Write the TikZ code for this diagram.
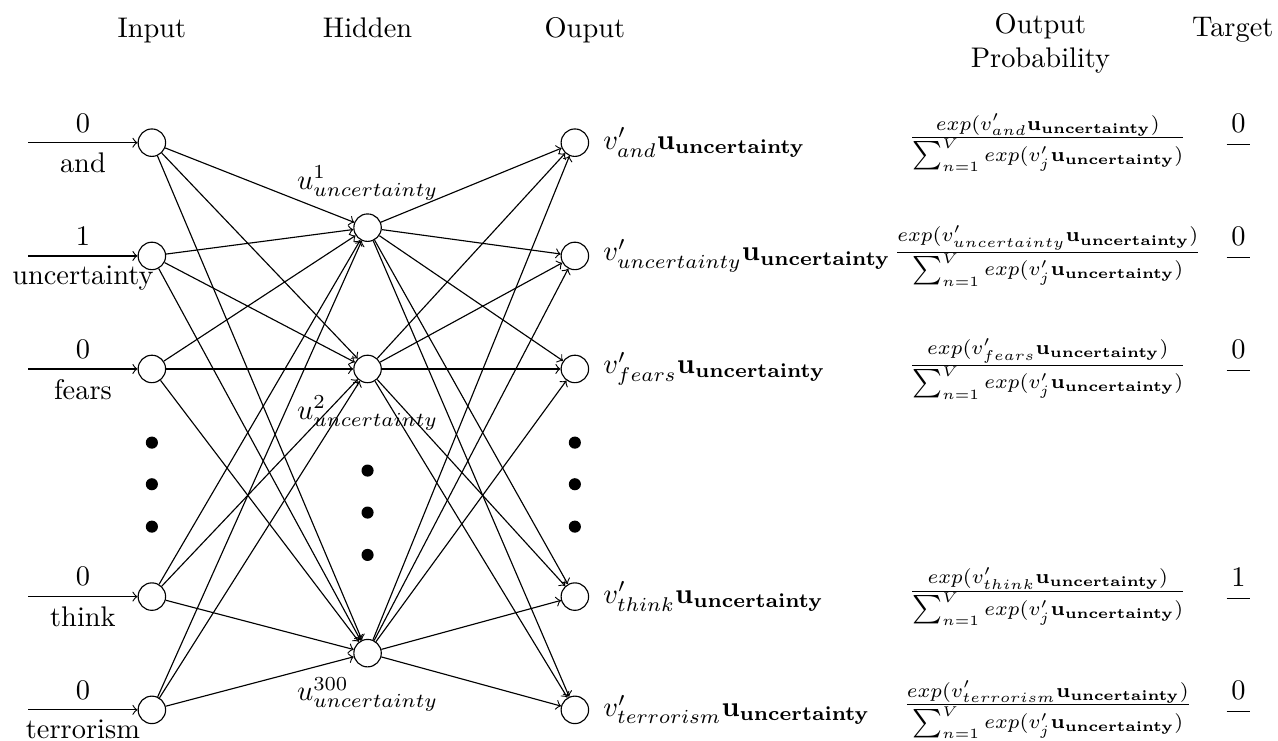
\documentclass[tikz,border=0pt]{standalone}
\usepackage{tikz}
\usetikzlibrary{positioning}
\newcommand{\uvec}{\mathbf{u}_{\mathbf{uncertainty}}}
\newcommand{\probfrac}[1]{\frac{exp(v'_{#1}\uvec)}{\sum_{n=1}^{V} exp(v'_j\uvec)}}
\newcommand{\tgt}[1]{\displaystyle\frac{\,#1\,}{}}

\begin{document}
\begin{tikzpicture}[
    neuron/.style={circle, draw, minimum size=0.34cm, inner sep=0pt},
    dotnode/.style={circle, fill, minimum size=0.15cm, inner sep=0pt},
    arrow/.style={->},
    headtext/.style={anchor=north, align=center},
]
\useasboundingbox (0,0) rectangle (15.82,-9.17);

% === HEADINGS ===
\node[headtext] (hin) at (1.88,-0.095) {Input};
\node[headtext] (hhid) at (4.55,-0.095) {Hidden};
\node[headtext] (hout) at (7.24,-0.095) {Ouput};
\node[headtext] (hprob) at (12.88,-0.04) {Output\\Probability};
\node[headtext] (htgt) at (15.26,-0.095) {Target};

% === INPUT LAYER ===
\node[neuron] (x1) at (1.88,-1.766) {};
\node[neuron] (x2) at (1.88,-3.168) {};
\node[neuron] (x3) at (1.88,-4.567) {};
\node[neuron] (x4) at (1.88,-7.385) {};
\node[neuron] (x5) at (1.88,-8.787) {};

\coordinate (s1) at (0.35,-1.766);
\coordinate (s2) at (0.35,-3.168);
\coordinate (s3) at (0.35,-4.567);
\coordinate (s4) at (0.35,-7.385);
\coordinate (s5) at (0.35,-8.787);

% Dots
\node[dotnode] (xd1) at (1.88,-5.479) {};
\node[dotnode] (xd2) at (1.88,-5.994) {};
\node[dotnode] (xd3) at (1.88,-6.519) {};

% === HIDDEN LAYER ===
\node[neuron] (h1) at (4.55,-2.818) {};
\node[neuron] (h2) at (4.55,-4.567) {};
\node[neuron] (h3) at (4.55,-8.085) {};

\node[above=1pt of h1] (lh1) {$u^{1}_{uncertainty}$};
\node[below=1pt of h2] (lh2) {$u^{2}_{uncertainty}$};
\node[below=0pt of h3] (lh3) {$u^{300}_{uncertainty}$};

\node[dotnode] (hd1) at (4.55,-5.825) {};
\node[dotnode] (hd2) at (4.55,-6.345) {};
\node[dotnode] (hd3) at (4.55,-6.869) {};

% === OUTPUT LAYER ===
\node[neuron] (y1) at (7.116,-1.766) {};
\node[neuron] (y2) at (7.116,-3.168) {};
\node[neuron] (y3) at (7.116,-4.567) {};
\node[neuron] (y4) at (7.116,-7.385) {};
\node[neuron] (y5) at (7.116,-8.787) {};

\node[right=1.5pt of y1] (ly1) {$v'_{and}\uvec$};
\node[right=1.5pt of y2] (ly2) {$v'_{uncertainty}\uvec$};
\node[right=1.5pt of y3] (ly3) {$v'_{fears}\uvec$};
\node[right=1.5pt of y4] (ly4) {$v'_{think}\uvec$};
\node[right=1.5pt of y5] (ly5) {$v'_{terrorism}\uvec$};

\node[dotnode] (yd1) at (7.116,-5.479) {};
\node[dotnode] (yd2) at (7.116,-5.994) {};
\node[dotnode] (yd3) at (7.116,-6.519) {};

% === PROBABILITIES ===
\node (p1) at (12.97,-1.766) {$\probfrac{and}$};
\node (p2) at (12.97,-3.168) {$\probfrac{uncertainty}$};
\node (p3) at (12.97,-4.567) {$\probfrac{fears}$};
\node (p4) at (12.97,-7.385) {$\probfrac{think}$};
\node (p5) at (12.97,-8.787) {$\probfrac{terrorism}$};

% === TARGETS ===
\node (t1) at (15.33,-1.766) {$\tgt{0}$};
\node (t2) at (15.33,-3.168) {$\tgt{0}$};
\node (t3) at (15.33,-4.567) {$\tgt{0}$};
\node (t4) at (15.33,-7.385) {$\tgt{1}$};
\node (t5) at (15.33,-8.787) {$\tgt{0}$};

% === ARROWS ===
% Words into input layer
\draw[arrow] (s1) -- (x1) node[midway, above] (n1) {0} node[midway, below] (w1) {and};
\draw[arrow] (s2) -- (x2) node[midway, above] (n2) {1} node[midway, below] (w2) {uncertainty};
\draw[arrow] (s3) -- (x3) node[midway, above] (n3) {0} node[midway, below] (w3) {fears};
\draw[arrow] (s4) -- (x4) node[midway, above] (n4) {0} node[midway, below] (w4) {think};
\draw[arrow] (s5) -- (x5) node[midway, above] (n5) {0} node[midway, below] (w5) {terrorism};

% Input to hidden
\draw[arrow] (x1) -- (h1); \draw[arrow] (x1) -- (h2); \draw[arrow] (x1) -- (h3);
\draw[arrow] (x2) -- (h1); \draw[arrow] (x2) -- (h2); \draw[arrow] (x2) -- (h3);
\draw[arrow] (x3) -- (h1); \draw[arrow] (x3) -- (h2); \draw[arrow] (x3) -- (h3);
\draw[arrow] (x4) -- (h1); \draw[arrow] (x4) -- (h2); \draw[arrow] (x4) -- (h3);
\draw[arrow] (x5) -- (h1); \draw[arrow] (x5) -- (h2); \draw[arrow] (x5) -- (h3);

% Hidden to output
\draw[arrow] (h1) -- (y1); \draw[arrow] (h1) -- (y2); \draw[arrow] (h1) -- (y3);
\draw[arrow] (h1) -- (y4); \draw[arrow] (h1) -- (y5);
\draw[arrow] (h2) -- (y1); \draw[arrow] (h2) -- (y2); \draw[arrow] (h2) -- (y3);
\draw[arrow] (h2) -- (y4); \draw[arrow] (h2) -- (y5);
\draw[arrow] (h3) -- (y1); \draw[arrow] (h3) -- (y2); \draw[arrow] (h3) -- (y3);
\draw[arrow] (h3) -- (y4); \draw[arrow] (h3) -- (y5);

\end{tikzpicture}
\end{document}
